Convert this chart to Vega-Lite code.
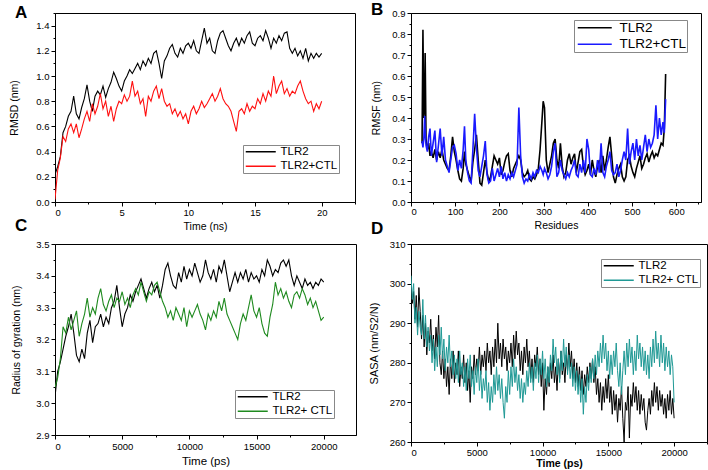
{
"$schema": "https://vega.github.io/schema/vega-lite/v6.json",
"background": "white",
"padding": {"left": 9, "top": 0, "right": 0, "bottom": 0},
"bounds": "flush",
"columns": 2,
"spacing": {"row": 42, "column": 55},
"config": {
 "font": "Liberation Sans",
 "view": {"stroke": "black", "strokeWidth": 1},
 "axis": {"grid": false, "domainColor": "black", "tickColor": "black", "labelColor": "black", "titleColor": "black", "labelFontSize": 9.5, "titleFontSize": 10.5, "titleFontWeight": "normal", "tickSize": 4, "labelPadding": 2},
 "legend": {"orient": "none", "title": null, "strokeColor": "#888", "fillColor": "white", "padding": 1, "symbolType": "M-1,0H6.5", "symbolStrokeWidth": 1.5, "symbolSize": 64, "labelFontSize": 11.5, "labelFont": "Liberation Sans", "rowPadding": 1.5, "labelOffset": 25, "labelColor": "black"},
 "title": {"anchor": "start", "frame": "group", "dx": -40, "fontSize": 17, "fontWeight": "bold", "font": "Liberation Sans", "color": "black"}
},
"resolve": {"scale": {"color": "independent", "x": "independent", "y": "independent"}, "legend": {"color": "independent"}},
"datasets": {
"rmsd": [
{"t":0,"a":0.22,"b":0.02},{"t":0.2,"a":0.28,"b":0.25},{"t":0.4,"a":0.36,"b":0.35},{"t":0.6,"a":0.55,"b":0.52},{"t":0.8,"a":0.6,"b":0.48},{"t":1,"a":0.68,"b":0.58},{"t":1.2,"a":0.72,"b":0.62},{"t":1.4,"a":0.84,"b":0.55},{"t":1.6,"a":0.7,"b":0.62},{"t":1.8,"a":0.66,"b":0.51},{"t":2,"a":0.75,"b":0.58},{"t":2.2,"a":0.82,"b":0.66},{"t":2.4,"a":0.93,"b":0.72},{"t":2.6,"a":0.8,"b":0.64},{"t":2.8,"a":0.72,"b":0.78},{"t":3,"a":0.84,"b":0.7},{"t":3.2,"a":0.88,"b":0.76},{"t":3.4,"a":0.85,"b":0.86},{"t":3.6,"a":0.92,"b":0.74},{"t":3.8,"a":0.83,"b":0.8},{"t":4,"a":0.9,"b":0.68},{"t":4.2,"a":0.95,"b":0.76},{"t":4.4,"a":1.03,"b":0.64},{"t":4.6,"a":0.98,"b":0.74},{"t":4.8,"a":0.92,"b":0.8},{"t":5,"a":0.88,"b":0.78},{"t":5.2,"a":0.96,"b":0.85},{"t":5.4,"a":1,"b":0.8},{"t":5.6,"a":1.05,"b":0.84},{"t":5.8,"a":1.02,"b":0.96},{"t":6,"a":1.06,"b":0.84},{"t":6.2,"a":1.1,"b":0.88},{"t":6.4,"a":1.05,"b":0.78},{"t":6.6,"a":1.12,"b":0.82},{"t":6.8,"a":1.08,"b":0.68},{"t":7,"a":1.14,"b":0.84},{"t":7.2,"a":1.1,"b":0.8},{"t":7.4,"a":1.18,"b":0.88},{"t":7.6,"a":1.2,"b":0.92},{"t":7.8,"a":1.1,"b":0.82},{"t":8,"a":0.98,"b":0.9},{"t":8.2,"a":1.12,"b":0.8},{"t":8.4,"a":1.16,"b":0.76},{"t":8.6,"a":1.22,"b":0.78},{"t":8.8,"a":1.25,"b":0.7},{"t":9,"a":1.18,"b":0.74},{"t":9.2,"a":1.15,"b":0.68},{"t":9.4,"a":1.22,"b":0.72},{"t":9.6,"a":1.18,"b":0.66},{"t":9.8,"a":1.24,"b":0.7},{"t":10,"a":1.26,"b":0.62},{"t":10.2,"a":1.22,"b":0.72},{"t":10.4,"a":1.28,"b":0.76},{"t":10.6,"a":1.2,"b":0.7},{"t":10.8,"a":1.18,"b":0.74},{"t":11,"a":1.28,"b":0.8},{"t":11.2,"a":1.38,"b":0.75},{"t":11.4,"a":1.26,"b":0.78},{"t":11.6,"a":1.3,"b":0.82},{"t":11.8,"a":1.2,"b":0.86},{"t":12,"a":1.18,"b":0.8},{"t":12.2,"a":1.28,"b":0.84},{"t":12.4,"a":1.34,"b":0.9},{"t":12.6,"a":1.36,"b":0.82},{"t":12.8,"a":1.3,"b":0.78},{"t":13,"a":1.24,"b":0.76},{"t":13.2,"a":1.2,"b":0.72},{"t":13.4,"a":1.26,"b":0.64},{"t":13.6,"a":1.3,"b":0.56},{"t":13.8,"a":1.24,"b":0.72},{"t":14,"a":1.3,"b":0.74},{"t":14.2,"a":1.26,"b":0.7},{"t":14.4,"a":1.32,"b":0.78},{"t":14.6,"a":1.35,"b":0.72},{"t":14.8,"a":1.26,"b":0.76},{"t":15,"a":1.24,"b":0.74},{"t":15.2,"a":1.3,"b":0.82},{"t":15.4,"a":1.32,"b":0.78},{"t":15.6,"a":1.28,"b":0.86},{"t":15.8,"a":1.36,"b":0.8},{"t":16,"a":1.3,"b":0.88},{"t":16.2,"a":1.22,"b":0.84},{"t":16.4,"a":1.3,"b":1},{"t":16.6,"a":1.26,"b":0.86},{"t":16.8,"a":1.32,"b":0.92},{"t":17,"a":1.28,"b":0.96},{"t":17.2,"a":1.34,"b":0.86},{"t":17.4,"a":1.35,"b":0.9},{"t":17.6,"a":1.22,"b":0.84},{"t":17.8,"a":1.18,"b":0.88},{"t":18,"a":1.22,"b":0.86},{"t":18.2,"a":1.16,"b":0.92},{"t":18.4,"a":1.2,"b":0.96},{"t":18.6,"a":1.14,"b":0.88},{"t":18.8,"a":1.22,"b":0.82},{"t":19,"a":1.12,"b":0.78},{"t":19.2,"a":1.18,"b":0.8},{"t":19.4,"a":1.14,"b":0.72},{"t":19.6,"a":1.18,"b":0.78},{"t":19.8,"a":1.15,"b":0.74},{"t":20,"a":1.18,"b":0.8}
],
"rmsf": [
{"t":25,"a":0.28,"b":0.29},{"t":27,"a":0.82,"b":0.26},{"t":29,"a":0.4,"b":0.3},{"t":31,"a":0.45,"b":0.41},{"t":32,"a":0.71,"b":0.33},{"t":34,"a":0.3,"b":0.27},{"t":37,"a":0.25,"b":0.24},{"t":40,"a":0.28,"b":0.31},{"t":43,"a":0.22,"b":0.35},{"t":46,"a":0.24,"b":0.22},{"t":50,"a":0.21,"b":0.28},{"t":54,"a":0.25,"b":0.34},{"t":58,"a":0.2,"b":0.19},{"t":62,"a":0.24,"b":0.27},{"t":66,"a":0.21,"b":0.35},{"t":70,"a":0.25,"b":0.22},{"t":74,"a":0.2,"b":0.31},{"t":78,"a":0.18,"b":0.2},{"t":82,"a":0.16,"b":0.17},{"t":86,"a":0.15,"b":0.14},{"t":90,"a":0.22,"b":0.2},{"t":94,"a":0.31,"b":0.26},{"t":98,"a":0.24,"b":0.27},{"t":102,"a":0.2,"b":0.23},{"t":106,"a":0.15,"b":0.15},{"t":110,"a":0.11,"b":0.2},{"t":114,"a":0.1,"b":0.16},{"t":118,"a":0.16,"b":0.25},{"t":121,"a":0.24,"b":0.36},{"t":124,"a":0.18,"b":0.2},{"t":128,"a":0.15,"b":0.14},{"t":132,"a":0.12,"b":0.1},{"t":136,"a":0.1,"b":0.09},{"t":140,"a":0.19,"b":0.25},{"t":144,"a":0.25,"b":0.42},{"t":148,"a":0.32,"b":0.26},{"t":152,"a":0.2,"b":0.15},{"t":156,"a":0.09,"b":0.12},{"t":160,"a":0.08,"b":0.17},{"t":164,"a":0.14,"b":0.22},{"t":168,"a":0.2,"b":0.29},{"t":172,"a":0.14,"b":0.13},{"t":176,"a":0.1,"b":0.09},{"t":180,"a":0.12,"b":0.1},{"t":184,"a":0.17,"b":0.16},{"t":188,"a":0.22,"b":0.1},{"t":192,"a":0.2,"b":0.13},{"t":196,"a":0.18,"b":0.16},{"t":200,"a":0.21,"b":0.12},{"t":204,"a":0.13,"b":0.17},{"t":208,"a":0.15,"b":0.11},{"t":212,"a":0.19,"b":0.14},{"t":216,"a":0.22,"b":0.1},{"t":220,"a":0.23,"b":0.13},{"t":224,"a":0.15,"b":0.11},{"t":228,"a":0.12,"b":0.14},{"t":232,"a":0.16,"b":0.12},{"t":236,"a":0.18,"b":0.15},{"t":240,"a":0.2,"b":0.18},{"t":244,"a":0.22,"b":0.45},{"t":248,"a":0.2,"b":0.22},{"t":252,"a":0.14,"b":0.12},{"t":256,"a":0.12,"b":0.09},{"t":260,"a":0.13,"b":0.11},{"t":264,"a":0.15,"b":0.1},{"t":268,"a":0.11,"b":0.13},{"t":272,"a":0.1,"b":0.11},{"t":276,"a":0.12,"b":0.14},{"t":280,"a":0.11,"b":0.12},{"t":284,"a":0.13,"b":0.15},{"t":288,"a":0.16,"b":0.14},{"t":292,"a":0.25,"b":0.17},{"t":296,"a":0.38,"b":0.15},{"t":299,"a":0.48,"b":0.13},{"t":302,"a":0.45,"b":0.16},{"t":306,"a":0.2,"b":0.14},{"t":310,"a":0.14,"b":0.11},{"t":314,"a":0.18,"b":0.13},{"t":318,"a":0.22,"b":0.17},{"t":322,"a":0.28,"b":0.24},{"t":326,"a":0.3,"b":0.28},{"t":330,"a":0.2,"b":0.12},{"t":334,"a":0.16,"b":0.14},{"t":338,"a":0.28,"b":0.2},{"t":342,"a":0.17,"b":0.15},{"t":346,"a":0.12,"b":0.13},{"t":350,"a":0.14,"b":0.11},{"t":354,"a":0.2,"b":0.14},{"t":358,"a":0.23,"b":0.12},{"t":362,"a":0.18,"b":0.15},{"t":366,"a":0.21,"b":0.17},{"t":370,"a":0.23,"b":0.2},{"t":374,"a":0.14,"b":0.13},{"t":378,"a":0.19,"b":0.12},{"t":382,"a":0.24,"b":0.18},{"t":386,"a":0.25,"b":0.14},{"t":390,"a":0.17,"b":0.2},{"t":394,"a":0.13,"b":0.14},{"t":398,"a":0.15,"b":0.3},{"t":402,"a":0.18,"b":0.25},{"t":406,"a":0.13,"b":0.13},{"t":410,"a":0.2,"b":0.12},{"t":414,"a":0.15,"b":0.16},{"t":418,"a":0.12,"b":0.13},{"t":422,"a":0.17,"b":0.2},{"t":426,"a":0.2,"b":0.14},{"t":430,"a":0.14,"b":0.28},{"t":434,"a":0.22,"b":0.14},{"t":438,"a":0.15,"b":0.12},{"t":442,"a":0.2,"b":0.17},{"t":446,"a":0.26,"b":0.2},{"t":450,"a":0.31,"b":0.24},{"t":454,"a":0.22,"b":0.15},{"t":458,"a":0.12,"b":0.13},{"t":462,"a":0.09,"b":0.14},{"t":466,"a":0.13,"b":0.18},{"t":470,"a":0.16,"b":0.12},{"t":474,"a":0.18,"b":0.15},{"t":478,"a":0.12,"b":0.2},{"t":482,"a":0.1,"b":0.24},{"t":486,"a":0.12,"b":0.2},{"t":490,"a":0.2,"b":0.35},{"t":494,"a":0.22,"b":0.18},{"t":498,"a":0.17,"b":0.24},{"t":502,"a":0.14,"b":0.28},{"t":506,"a":0.12,"b":0.2},{"t":510,"a":0.16,"b":0.3},{"t":514,"a":0.19,"b":0.22},{"t":518,"a":0.22,"b":0.27},{"t":522,"a":0.16,"b":0.2},{"t":526,"a":0.18,"b":0.26},{"t":530,"a":0.21,"b":0.32},{"t":534,"a":0.23,"b":0.24},{"t":538,"a":0.19,"b":0.3},{"t":542,"a":0.22,"b":0.26},{"t":546,"a":0.24,"b":0.28},{"t":550,"a":0.21,"b":0.32},{"t":554,"a":0.23,"b":0.46},{"t":558,"a":0.22,"b":0.3},{"t":562,"a":0.25,"b":0.4},{"t":566,"a":0.28,"b":0.32},{"t":570,"a":0.27,"b":0.38},{"t":573,"a":0.35,"b":0.33},{"t":576,"a":0.61,"b":0.49}
],
"rg": [
{"t":0,"a":3.02,"b":3.05},{"t":200,"a":3.1,"b":3.08},{"t":400,"a":3.13,"b":3.14},{"t":600,"a":3.17,"b":3.24},{"t":800,"a":3.21,"b":3.22},{"t":1000,"a":3.24,"b":3.27},{"t":1200,"a":3.28,"b":3.23},{"t":1400,"a":3.22,"b":3.26},{"t":1600,"a":3.15,"b":3.29},{"t":1800,"a":3.13,"b":3.21},{"t":2000,"a":3.17,"b":3.25},{"t":2200,"a":3.14,"b":3.28},{"t":2400,"a":3.22,"b":3.33},{"t":2600,"a":3.26,"b":3.27},{"t":2800,"a":3.19,"b":3.3},{"t":3000,"a":3.24,"b":3.28},{"t":3200,"a":3.25,"b":3.33},{"t":3400,"a":3.28,"b":3.36},{"t":3600,"a":3.24,"b":3.31},{"t":3800,"a":3.27,"b":3.29},{"t":4000,"a":3.25,"b":3.32},{"t":4200,"a":3.3,"b":3.34},{"t":4400,"a":3.32,"b":3.3},{"t":4600,"a":3.37,"b":3.33},{"t":4800,"a":3.3,"b":3.32},{"t":5000,"a":3.24,"b":3.35},{"t":5200,"a":3.28,"b":3.31},{"t":5400,"a":3.3,"b":3.33},{"t":5600,"a":3.34,"b":3.3},{"t":5800,"a":3.32,"b":3.34},{"t":6000,"a":3.35,"b":3.36},{"t":6200,"a":3.37,"b":3.34},{"t":6400,"a":3.39,"b":3.38},{"t":6600,"a":3.36,"b":3.35},{"t":6800,"a":3.33,"b":3.32},{"t":7000,"a":3.36,"b":3.35},{"t":7200,"a":3.38,"b":3.34},{"t":7400,"a":3.35,"b":3.37},{"t":7600,"a":3.37,"b":3.38},{"t":7800,"a":3.33,"b":3.35},{"t":8000,"a":3.37,"b":3.32},{"t":8200,"a":3.42,"b":3.3},{"t":8400,"a":3.44,"b":3.27},{"t":8600,"a":3.4,"b":3.29},{"t":8800,"a":3.37,"b":3.26},{"t":9000,"a":3.36,"b":3.3},{"t":9200,"a":3.41,"b":3.28},{"t":9400,"a":3.38,"b":3.26},{"t":9600,"a":3.43,"b":3.3},{"t":9800,"a":3.39,"b":3.24},{"t":10000,"a":3.42,"b":3.29},{"t":10200,"a":3.4,"b":3.27},{"t":10400,"a":3.44,"b":3.29},{"t":10600,"a":3.41,"b":3.31},{"t":10800,"a":3.38,"b":3.28},{"t":11000,"a":3.4,"b":3.26},{"t":11200,"a":3.45,"b":3.23},{"t":11400,"a":3.41,"b":3.28},{"t":11600,"a":3.39,"b":3.26},{"t":11800,"a":3.42,"b":3.29},{"t":12000,"a":3.38,"b":3.27},{"t":12200,"a":3.43,"b":3.32},{"t":12400,"a":3.41,"b":3.29},{"t":12600,"a":3.45,"b":3.33},{"t":12800,"a":3.4,"b":3.28},{"t":13000,"a":3.35,"b":3.26},{"t":13200,"a":3.38,"b":3.24},{"t":13400,"a":3.41,"b":3.22},{"t":13600,"a":3.38,"b":3.2},{"t":13800,"a":3.41,"b":3.25},{"t":14000,"a":3.39,"b":3.28},{"t":14200,"a":3.42,"b":3.26},{"t":14400,"a":3.38,"b":3.3},{"t":14600,"a":3.41,"b":3.34},{"t":14800,"a":3.39,"b":3.29},{"t":15000,"a":3.4,"b":3.27},{"t":15200,"a":3.38,"b":3.3},{"t":15400,"a":3.42,"b":3.25},{"t":15600,"a":3.4,"b":3.22},{"t":15800,"a":3.45,"b":3.21},{"t":16000,"a":3.43,"b":3.27},{"t":16200,"a":3.4,"b":3.31},{"t":16400,"a":3.42,"b":3.38},{"t":16600,"a":3.41,"b":3.34},{"t":16800,"a":3.44,"b":3.36},{"t":17000,"a":3.45,"b":3.33},{"t":17200,"a":3.43,"b":3.35},{"t":17400,"a":3.45,"b":3.32},{"t":17600,"a":3.4,"b":3.3},{"t":17800,"a":3.37,"b":3.34},{"t":18000,"a":3.4,"b":3.35},{"t":18200,"a":3.38,"b":3.33},{"t":18400,"a":3.36,"b":3.36},{"t":18600,"a":3.39,"b":3.34},{"t":18800,"a":3.37,"b":3.31},{"t":19000,"a":3.38,"b":3.33},{"t":19200,"a":3.36,"b":3.3},{"t":19400,"a":3.38,"b":3.32},{"t":19600,"a":3.37,"b":3.29},{"t":19800,"a":3.39,"b":3.26},{"t":20000,"a":3.38,"b":3.27}
],
"sasa": [
{"t":0,"a":300,"b":302},{"t":100,"a":295,"b":296},{"t":200,"a":298,"b":300},{"t":300,"a":291,"b":290},{"t":400,"a":297,"b":294},{"t":500,"a":289,"b":287},{"t":600,"a":299,"b":293},{"t":700,"a":293,"b":289},{"t":800,"a":286,"b":287},{"t":900,"a":292,"b":296},{"t":1000,"a":284,"b":286},{"t":1100,"a":290,"b":292},{"t":1200,"a":282,"b":284},{"t":1300,"a":288,"b":289},{"t":1400,"a":285,"b":283},{"t":1500,"a":291,"b":287},{"t":1600,"a":283,"b":280},{"t":1700,"a":287,"b":286},{"t":1800,"a":281,"b":278},{"t":1900,"a":289,"b":284},{"t":2000,"a":284,"b":279},{"t":2100,"a":292,"b":287},{"t":2200,"a":280,"b":282},{"t":2300,"a":277,"b":289},{"t":2400,"a":283,"b":281},{"t":2500,"a":276,"b":286},{"t":2600,"a":281,"b":278},{"t":2700,"a":274,"b":284},{"t":2800,"a":279,"b":280},{"t":2900,"a":272,"b":287},{"t":3000,"a":281,"b":279},{"t":3100,"a":276,"b":283},{"t":3200,"a":283,"b":277},{"t":3300,"a":275,"b":282},{"t":3400,"a":280,"b":276},{"t":3500,"a":277,"b":281},{"t":3600,"a":283,"b":275},{"t":3700,"a":274,"b":283},{"t":3800,"a":279,"b":277},{"t":3900,"a":276,"b":280},{"t":4000,"a":282,"b":274},{"t":4100,"a":275,"b":279},{"t":4200,"a":280,"b":273},{"t":4300,"a":273,"b":281},{"t":4400,"a":278,"b":276},{"t":4500,"a":270,"b":282},{"t":4600,"a":279,"b":274},{"t":4700,"a":276,"b":278},{"t":4800,"a":282,"b":272},{"t":4900,"a":277,"b":279},{"t":5000,"a":281,"b":275},{"t":5100,"a":278,"b":281},{"t":5200,"a":284,"b":273},{"t":5300,"a":277,"b":278},{"t":5400,"a":282,"b":271},{"t":5500,"a":279,"b":276},{"t":5600,"a":283,"b":273},{"t":5700,"a":278,"b":278},{"t":5800,"a":285,"b":270},{"t":5900,"a":280,"b":275},{"t":6000,"a":283,"b":268},{"t":6100,"a":277,"b":274},{"t":6200,"a":284,"b":270},{"t":6300,"a":279,"b":277},{"t":6400,"a":286,"b":272},{"t":6500,"a":280,"b":279},{"t":6600,"a":290,"b":273},{"t":6700,"a":281,"b":277},{"t":6800,"a":285,"b":271},{"t":6900,"a":279,"b":276},{"t":7000,"a":286,"b":270},{"t":7100,"a":281,"b":266},{"t":7200,"a":284,"b":274},{"t":7300,"a":278,"b":270},{"t":7400,"a":283,"b":278},{"t":7500,"a":280,"b":272},{"t":7600,"a":285,"b":279},{"t":7700,"a":279,"b":274},{"t":7800,"a":287,"b":281},{"t":7900,"a":281,"b":275},{"t":8000,"a":288,"b":279},{"t":8100,"a":282,"b":273},{"t":8200,"a":285,"b":277},{"t":8300,"a":278,"b":271},{"t":8400,"a":283,"b":276},{"t":8500,"a":277,"b":270},{"t":8600,"a":284,"b":275},{"t":8700,"a":280,"b":272},{"t":8800,"a":286,"b":278},{"t":8900,"a":279,"b":274},{"t":9000,"a":283,"b":280},{"t":9100,"a":276,"b":275},{"t":9200,"a":281,"b":279},{"t":9300,"a":275,"b":273},{"t":9400,"a":282,"b":280},{"t":9500,"a":279,"b":276},{"t":9600,"a":284,"b":282},{"t":9700,"a":277,"b":275},{"t":9800,"a":281,"b":281},{"t":9900,"a":274,"b":277},{"t":10000,"a":280,"b":283},{"t":10100,"a":268,"b":276},{"t":10200,"a":276,"b":281},{"t":10300,"a":272,"b":274},{"t":10400,"a":279,"b":279},{"t":10500,"a":274,"b":275},{"t":10600,"a":280,"b":282},{"t":10700,"a":276,"b":278},{"t":10800,"a":282,"b":286},{"t":10900,"a":275,"b":280},{"t":11000,"a":279,"b":284},{"t":11100,"a":273,"b":277},{"t":11200,"a":281,"b":281},{"t":11300,"a":276,"b":275},{"t":11400,"a":283,"b":283},{"t":11500,"a":277,"b":278},{"t":11600,"a":280,"b":286},{"t":11700,"a":275,"b":279},{"t":11800,"a":282,"b":284},{"t":11900,"a":278,"b":277},{"t":12000,"a":285,"b":282},{"t":12100,"a":279,"b":276},{"t":12200,"a":283,"b":280},{"t":12300,"a":276,"b":274},{"t":12400,"a":281,"b":279},{"t":12500,"a":275,"b":273},{"t":12600,"a":280,"b":278},{"t":12700,"a":274,"b":272},{"t":12800,"a":279,"b":277},{"t":12900,"a":273,"b":270},{"t":13000,"a":278,"b":276},{"t":13100,"a":272,"b":267},{"t":13200,"a":277,"b":274},{"t":13300,"a":274,"b":270},{"t":13400,"a":279,"b":277},{"t":13500,"a":275,"b":273},{"t":13600,"a":280,"b":279},{"t":13700,"a":276,"b":275},{"t":13800,"a":281,"b":281},{"t":13900,"a":275,"b":276},{"t":14000,"a":279,"b":282},{"t":14100,"a":272,"b":277},{"t":14200,"a":276,"b":283},{"t":14300,"a":270,"b":279},{"t":14400,"a":275,"b":285},{"t":14500,"a":268,"b":280},{"t":14600,"a":274,"b":287},{"t":14700,"a":270,"b":281},{"t":14800,"a":276,"b":285},{"t":14900,"a":271,"b":278},{"t":15000,"a":277,"b":283},{"t":15100,"a":270,"b":276},{"t":15200,"a":274,"b":282},{"t":15300,"a":267,"b":277},{"t":15400,"a":273,"b":283},{"t":15500,"a":268,"b":279},{"t":15600,"a":272,"b":285},{"t":15700,"a":265,"b":278},{"t":15800,"a":271,"b":274},{"t":15900,"a":268,"b":280},{"t":16000,"a":274,"b":272},{"t":16100,"a":266,"b":278},{"t":16200,"a":260,"b":283},{"t":16300,"a":270,"b":277},{"t":16400,"a":268,"b":285},{"t":16500,"a":274,"b":279},{"t":16600,"a":261,"b":286},{"t":16700,"a":272,"b":280},{"t":16800,"a":269,"b":284},{"t":16900,"a":275,"b":277},{"t":17000,"a":270,"b":283},{"t":17100,"a":274,"b":278},{"t":17200,"a":268,"b":287},{"t":17300,"a":273,"b":281},{"t":17400,"a":267,"b":285},{"t":17500,"a":272,"b":279},{"t":17600,"a":268,"b":284},{"t":17700,"a":271,"b":278},{"t":17800,"a":265,"b":283},{"t":17900,"a":263,"b":277},{"t":18000,"a":268,"b":282},{"t":18100,"a":271,"b":276},{"t":18200,"a":267,"b":284},{"t":18300,"a":273,"b":279},{"t":18400,"a":269,"b":286},{"t":18500,"a":275,"b":280},{"t":18600,"a":270,"b":288},{"t":18700,"a":274,"b":281},{"t":18800,"a":268,"b":285},{"t":18900,"a":273,"b":279},{"t":19000,"a":269,"b":287},{"t":19100,"a":272,"b":280},{"t":19200,"a":267,"b":285},{"t":19300,"a":271,"b":278},{"t":19400,"a":266,"b":284},{"t":19500,"a":272,"b":279},{"t":19600,"a":268,"b":283},{"t":19700,"a":273,"b":277},{"t":19800,"a":267,"b":282},{"t":19900,"a":271,"b":279},{"t":20000,"a":266,"b":270}
]
},
"concat": [
 {"title": {"text": "A", "offset": -9},
  "width": 300, "height": 189,
  "data": {"name": "rmsd"},
  "transform": [{"fold": ["a", "b"], "as": ["k", "v"]}],
  "resolve": {"axis": {"x": "independent", "y": "independent"}},
  "layer": [
   {"mark": {"type": "line", "strokeWidth": 1.1, "clip": true},
    "encoding": {
     "x": {"field": "t", "type": "quantitative", "scale": {"domain": [0, 22.5], "nice": false}, "axis": {"title": "Time (ns)", "values": [0, 5, 10, 15, 20], "titlePadding": 5, "labelPadding": 1}},
     "y": {"field": "v", "type": "quantitative", "scale": {"domain": [0, 1.5], "nice": false}, "axis": {"title": "RMSD (nm)", "values": [0, 0.2, 0.4, 0.6, 0.8, 1.0, 1.2, 1.4], "format": ".1f", "titlePadding": 16}},
     "color": {"field": "k", "type": "nominal", "scale": {"domain": ["a", "b"], "range": ["black", "#ff1010"]}, "legend": {"labelExpr": "datum.value == 'a' ? 'TLR2' : 'TLR2+CTL'", "legendX": 188, "legendY": 132}}
    }},
   {"mark": {"type": "point", "opacity": 0},
    "encoding": {
     "x": {"field": "t", "type": "quantitative", "scale": {"domain": [0, 22.5], "nice": false}, "axis": {"orient": "bottom", "title": null, "labels": false, "domain": false, "tickSize": 2, "values": [2.5, 7.5, 12.5, 17.5, 22.5]}},
     "y": {"field": "v", "type": "quantitative", "scale": {"domain": [0, 1.5], "nice": false}, "axis": {"orient": "left", "title": null, "labels": false, "domain": false, "tickSize": 2, "values": [0.1, 0.3, 0.5, 0.7, 0.9, 1.1, 1.3, 1.5]}}
    }}
  ]},
 {"title": {"text": "B", "offset": -11},
  "width": 290, "height": 189,
  "data": {"name": "rmsf"},
  "transform": [{"fold": ["a", "b"], "as": ["k", "v"]}],
  "resolve": {"axis": {"x": "independent", "y": "independent"}},
  "layer": [
   {"mark": {"type": "line", "strokeWidth": 1.6, "clip": true},
    "encoding": {
     "x": {"field": "t", "type": "quantitative", "scale": {"domain": [0, 656], "nice": false}, "axis": {"title": "Residues", "values": [0, 100, 200, 300, 400, 500, 600], "titlePadding": 5, "labelPadding": 0}},
     "y": {"field": "v", "type": "quantitative", "scale": {"domain": [0, 0.9], "nice": false}, "axis": {"title": "RMSF (nm)", "values": [0, 0.1, 0.2, 0.3, 0.4, 0.5, 0.6, 0.7, 0.8, 0.9], "format": ".1f", "titlePadding": 10}},
     "color": {"field": "k", "type": "nominal", "scale": {"domain": ["a", "b"], "range": ["black", "#1a1aff"]}, "legend": {"labelExpr": "datum.value == 'a' ? 'TLR2' : 'TLR2+CTL'", "legendX": 163, "legendY": 7, "labelFontSize": 13.5, "symbolType": "M-1,0H7.5", "labelOffset": 31}}
    }},
   {"mark": {"type": "point", "opacity": 0},
    "encoding": {
     "x": {"field": "t", "type": "quantitative", "scale": {"domain": [0, 656], "nice": false}, "axis": {"orient": "bottom", "title": null, "labels": false, "domain": false, "tickSize": 2, "values": [50, 150, 250, 350, 450, 550, 650]}},
     "y": {"field": "v", "type": "quantitative", "scale": {"domain": [0, 0.9], "nice": false}, "axis": {"orient": "left", "title": null, "labels": false, "domain": false, "tickSize": 2, "values": [0.05, 0.15, 0.25, 0.35, 0.45, 0.55, 0.65, 0.75, 0.85]}}
    }}
  ]},
 {"title": {"text": "C", "offset": 4},
  "width": 301, "height": 191,
  "data": {"name": "rg"},
  "transform": [{"fold": ["a", "b"], "as": ["k", "v"]}],
  "resolve": {"axis": {"x": "independent", "y": "independent"}},
  "layer": [
   {"mark": {"type": "line", "strokeWidth": 1.1, "clip": true},
    "encoding": {
     "x": {"field": "t", "type": "quantitative", "scale": {"domain": [0, 22400], "nice": false}, "axis": {"title": "Time (ps)", "values": [0, 5000, 10000, 15000, 20000], "format": "d", "titlePadding": 5, "titleFontSize": 11.5}},
     "y": {"field": "v", "type": "quantitative", "scale": {"domain": [2.9, 3.5], "nice": false, "zero": false}, "axis": {"title": "Radius of gyration (nm)", "values": [2.9, 3.0, 3.1, 3.2, 3.3, 3.4, 3.5], "format": ".1f", "titlePadding": 14}},
     "color": {"field": "k", "type": "nominal", "scale": {"domain": ["a", "b"], "range": ["black", "#1f8a1f"]}, "legend": {"labelExpr": "datum.value == 'a' ? 'TLR2' : 'TLR2+ CTL'", "legendX": 180, "legendY": 146}}
    }},
   {"mark": {"type": "point", "opacity": 0},
    "encoding": {
     "x": {"field": "t", "type": "quantitative", "scale": {"domain": [0, 22400], "nice": false}, "axis": {"orient": "bottom", "title": null, "labels": false, "domain": false, "tickSize": 2, "values": [2500, 7500, 12500, 17500]}},
     "y": {"field": "v", "type": "quantitative", "scale": {"domain": [2.9, 3.5], "nice": false, "zero": false}, "axis": {"orient": "left", "title": null, "labels": false, "domain": false, "tickSize": 2, "values": [2.95, 3.05, 3.15, 3.25, 3.35, 3.45]}}
    }}
  ]},
 {"title": {"text": "D", "offset": 1},
  "width": 296, "height": 198,
  "data": {"name": "sasa"},
  "transform": [{"fold": ["a", "b"], "as": ["k", "v"]}],
  "resolve": {"axis": {"x": "independent", "y": "independent"}},
  "layer": [
   {"mark": {"type": "line", "strokeWidth": 1, "clip": true},
    "encoding": {
     "x": {"field": "t", "type": "quantitative", "scale": {"domain": [0, 22500], "nice": false}, "axis": {"title": "Time (ps)", "values": [0, 5000, 10000, 15000, 20000], "format": "d", "titlePadding": 2, "labelPadding": 1, "titleFontWeight": "bold"}},
     "y": {"field": "v", "type": "quantitative", "scale": {"domain": [260, 310], "nice": false, "zero": false}, "axis": {"title": "SASA (nm/S2/N)", "values": [260, 270, 280, 290, 300, 310], "titlePadding": 10, "titleFontSize": 11}},
     "color": {"field": "k", "type": "nominal", "scale": {"domain": ["a", "b"], "range": ["black", "#1f9995"]}, "legend": {"labelExpr": "datum.value == 'a' ? 'TLR2' : 'TLR2+ CTL'", "legendX": 190, "legendY": 15}}
    }},
   {"mark": {"type": "point", "opacity": 0},
    "encoding": {
     "x": {"field": "t", "type": "quantitative", "scale": {"domain": [0, 22500], "nice": false}, "axis": {"orient": "bottom", "title": null, "labels": false, "domain": false, "tickSize": 2, "values": [2500, 7500, 12500, 17500, 22500]}},
     "y": {"field": "v", "type": "quantitative", "scale": {"domain": [260, 310], "nice": false, "zero": false}, "axis": {"orient": "left", "title": null, "labels": false, "domain": false, "tickSize": 2, "values": [265, 275, 285, 295, 305]}}
    }}
  ]}
]
}
